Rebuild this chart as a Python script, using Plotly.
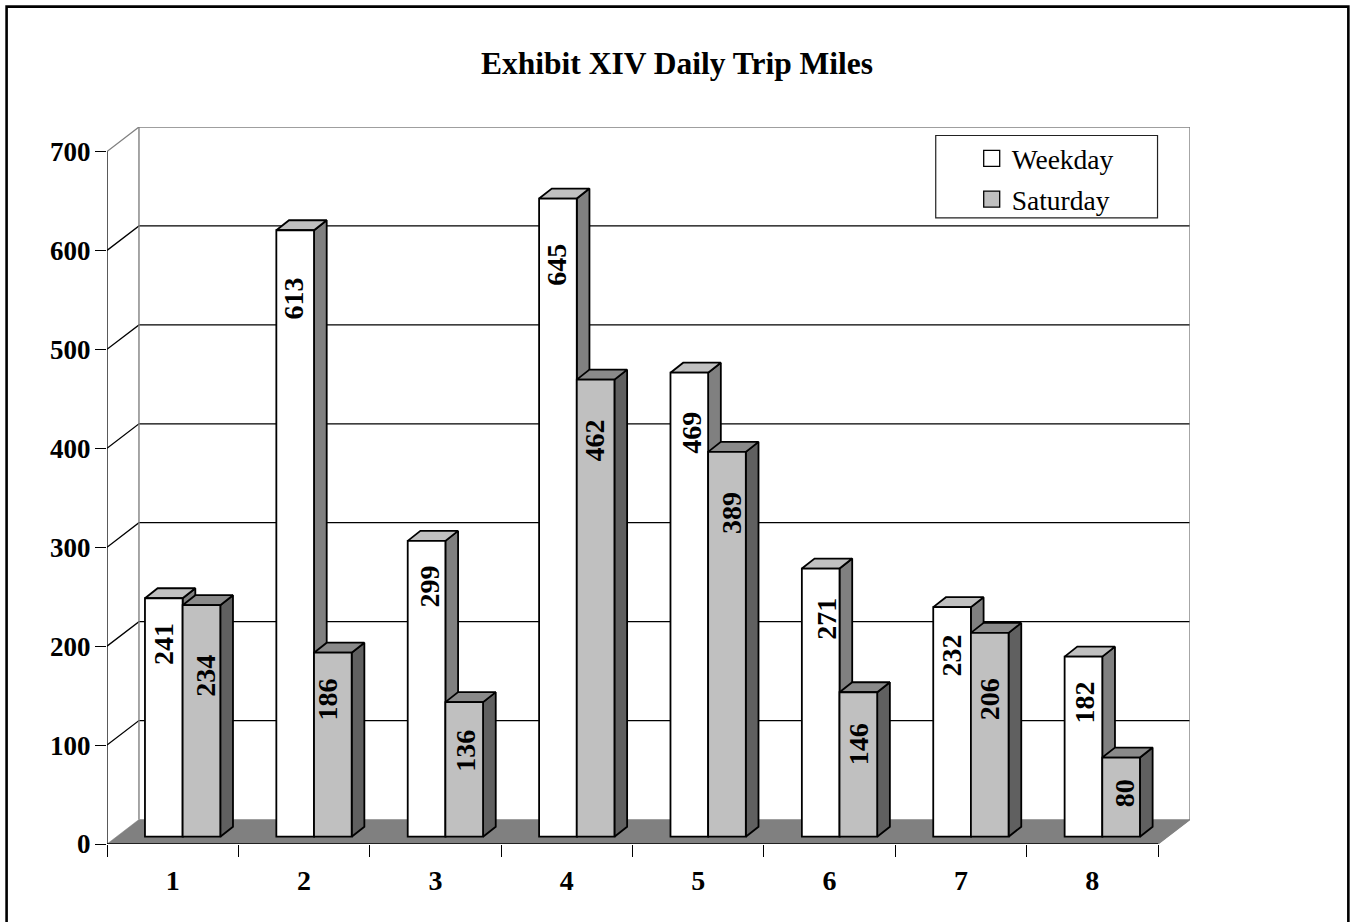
import plotly.graph_objects as go

categories = ["1", "2", "3", "4", "5", "6", "7", "8"]
weekday = [241, 613, 299, 645, 469, 271, 232, 182]
saturday = [234, 186, 136, 462, 389, 146, 206, 80]
y_ticks = [0, 100, 200, 300, 400, 500, 600, 700]

# label centres (value-axis units, and pixel offset from the bar centre)
weekday_label_y = [202, 551, 260, 586, 416, 228, 190, 143]
saturday_label_y = [170, 146, 94, 408, 335, 101, 146.5, 51]
weekday_label_dx = [0.6, 0, 4.6, 0, 3.5, 7, 0, 3]
saturday_label_dx = [6, -3.5, 2, 0, 6, 1.4, 1, 5]

W, H = 1351, 922
PX_X0, PX_X1 = 106.5, 1190.5
PX_Y0, PX_Y1 = 844.5, 127.0
PX_CAT = 131.5
PX_UNIT = 0.99
x_max = (PX_X1 - PX_X0) / PX_CAT
y_max = (PX_Y0 - PX_Y1) / PX_UNIT
WALL_DX = x_max - 8
WALL_DY = 24.75
BAR_LEFT = 38.0 / PX_CAT
BAR_W = 37.7 / PX_CAT
BAR_BASE = 7.4
DEPTH_DX = 12.7 / PX_CAT
DEPTH_DY = 10.1
SERIF = "Liberation Serif"
INK = "#000000"
BAR_LINE = 1.8

fig = go.Figure()


def polygon_trace(xs, ys, fill, line, width, z):
    return go.Scatter(x=xs, y=ys, mode="lines", fill="toself", fillcolor=fill,
                      line=dict(color=line, width=width), hoverinfo="skip",
                      showlegend=False, cliponaxis=False, zorder=z)


def line_trace(xs, ys, color, width, z=0):
    return go.Scatter(x=xs, y=ys, mode="lines", line=dict(color=color, width=width),
                      hoverinfo="skip", showlegend=False, cliponaxis=False, zorder=z)


# floor
fig.add_trace(polygon_trace([0, 8, 8 + WALL_DX, WALL_DX, 0], [0, 0, WALL_DY, WALL_DY, 0],
                            "#808080", "#808080", 0.5, 0))
# gridlines and wall edges
for t in y_ticks[1:]:
    c = "#808080" if t == 700 else "#000000"
    fig.add_trace(line_trace([0, WALL_DX, 8 + WALL_DX], [t, t + WALL_DY, t + WALL_DY], c, 1.3))
fig.add_trace(line_trace([WALL_DX, WALL_DX], [WALL_DY, 700 + WALL_DY], "#808080", 1.4))
fig.add_trace(line_trace([8 + WALL_DX, 8 + WALL_DX], [WALL_DY, 700 + WALL_DY], "#808080", 1.4))
fig.add_trace(line_trace([8, 8 + WALL_DX], [0, WALL_DY], "#808080", 1.2))
fig.add_trace(line_trace([0, 0], [0, 700], "#000000", 1.3))
fig.add_trace(line_trace([0, 8], [0, 0], "#000000", 1.5))


def box_faces(values, offset, side_col, top_col, front_col, name, z):
    sx, sy, tx, ty = [], [], [], []
    centers = []
    for i, v in enumerate(values):
        x0 = i + BAR_LEFT + offset
        x1 = x0 + BAR_W
        centers.append((x0 + x1) / 2)
        ytop = v + BAR_BASE
        sx += [x1, x1 + DEPTH_DX, x1 + DEPTH_DX, x1, x1, None]
        sy += [BAR_BASE, BAR_BASE + DEPTH_DY, ytop + DEPTH_DY, ytop, BAR_BASE, None]
        tx += [x0, x0 + DEPTH_DX, x1 + DEPTH_DX, x1, x0, None]
        ty += [ytop, ytop + DEPTH_DY, ytop + DEPTH_DY, ytop, ytop, None]
    fig.add_trace(polygon_trace(sx, sy, side_col, INK, BAR_LINE, z))
    fig.add_trace(polygon_trace(tx, ty, top_col, INK, BAR_LINE, z))
    fig.add_trace(go.Bar(x=centers, y=values, base=BAR_BASE, width=BAR_W, name=name,
                         marker=dict(color=front_col, line=dict(color=INK, width=BAR_LINE)),
                         showlegend=False, hoverinfo="skip", cliponaxis=False, zorder=z + 1))
    return centers


c_week = box_faces(weekday, 0, "#808080", "#C0C0C0", "#FFFFFF", "Weekday", 1)
c_sat = box_faces(saturday, BAR_W, "#606060", "#8A8A8A", "#C0C0C0", "Saturday", 3)

# legend entries
for name, col in [("Weekday", "#FFFFFF"), ("Saturday", "#C0C0C0")]:
    fig.add_trace(go.Scatter(x=[None], y=[None], mode="markers", name=name, legendgroup=name,
                             marker=dict(symbol="square", size=16, color=col,
                                         line=dict(color="#000000", width=1.3))))

# value labels
annotations = []
for centers, vals, ys, dxs in [(c_week, weekday, weekday_label_y, weekday_label_dx),
                               (c_sat, saturday, saturday_label_y, saturday_label_dx)]:
    for cx, v, ly, dx in zip(centers, vals, ys, dxs):
        annotations.append(dict(x=cx + (dx - 1.5) / PX_CAT, y=ly, xref="x", yref="y", text=f"<b>{v}</b>",
                                textangle=-90, showarrow=False,
                                font=dict(family=SERIF, size=28, color="#000000")))


def px_x(p):
    return (p - PX_X0) / (PX_X1 - PX_X0)


def px_y(p):
    return (PX_Y0 - p) / (PX_Y0 - PX_Y1)


shapes = [
    dict(type="rect", xref="paper", yref="paper", x0=px_x(6), x1=px_x(1349), y0=px_y(940), y1=px_y(6.5),
         line=dict(color="#000000", width=2.6), fillcolor="rgba(0,0,0,0)", layer="below"),
    dict(type="rect", xref="paper", yref="paper", x0=px_x(936), x1=px_x(1158), y0=px_y(218), y1=px_y(135.5),
         line=dict(color="#222222", width=1.2), fillcolor="#FFFFFF", layer="above"),
]

fig.update_layout(
    width=W, height=H, barmode="overlay", plot_bgcolor="#FFFFFF", paper_bgcolor="#FFFFFF",
    margin=dict(l=PX_X0, r=W - PX_X1, t=PX_Y1, b=H - PX_Y0, pad=0, autoexpand=False),
    font=dict(family=SERIF, color="#000000"),
    title=dict(text="<b>Exhibit XIV Daily Trip Miles</b>", font=dict(family=SERIF, size=31.5, color="#000000"),
               x=677 / W, xanchor="center", y=1 - 63 / H, yanchor="middle"),
    xaxis=dict(range=[0, x_max], tickvals=[i + 0.5 for i in range(8)], ticktext=[f"<b>{c}</b>" for c in categories],
               ticks="", showgrid=False, zeroline=False, showline=False,
               tickfont=dict(family=SERIF, size=28, color="#000000"), ticklabelstandoff=17,
               minor=dict(tickvals=list(range(9)), ticks="outside", ticklen=12, tickwidth=1.2,
                          tickcolor="#000000", showgrid=False)),
    yaxis=dict(range=[0, y_max], tickvals=y_ticks, ticktext=[f"<b>{t}</b>" for t in y_ticks],
               ticks="outside", ticklen=11, tickwidth=1.2, tickcolor="#000000",
               showgrid=False, zeroline=False, showline=False,
               tickfont=dict(family=SERIF, size=27, color="#000000"), ticklabelstandoff=-1),
    legend=dict(x=px_x(972), y=px_y(134), xanchor="left", yanchor="top", bgcolor="rgba(0,0,0,0)",
                font=dict(family=SERIF, size=27.5, color="#000000"), itemwidth=30, tracegroupgap=2,
                itemclick=False, itemdoubleclick=False),
    annotations=annotations, shapes=shapes, showlegend=True,
)

fig.write_html("out.html", config=dict(displayModeBar=False),
               post_script="document.body.style.margin='0';document.body.style.overflow='hidden';")
